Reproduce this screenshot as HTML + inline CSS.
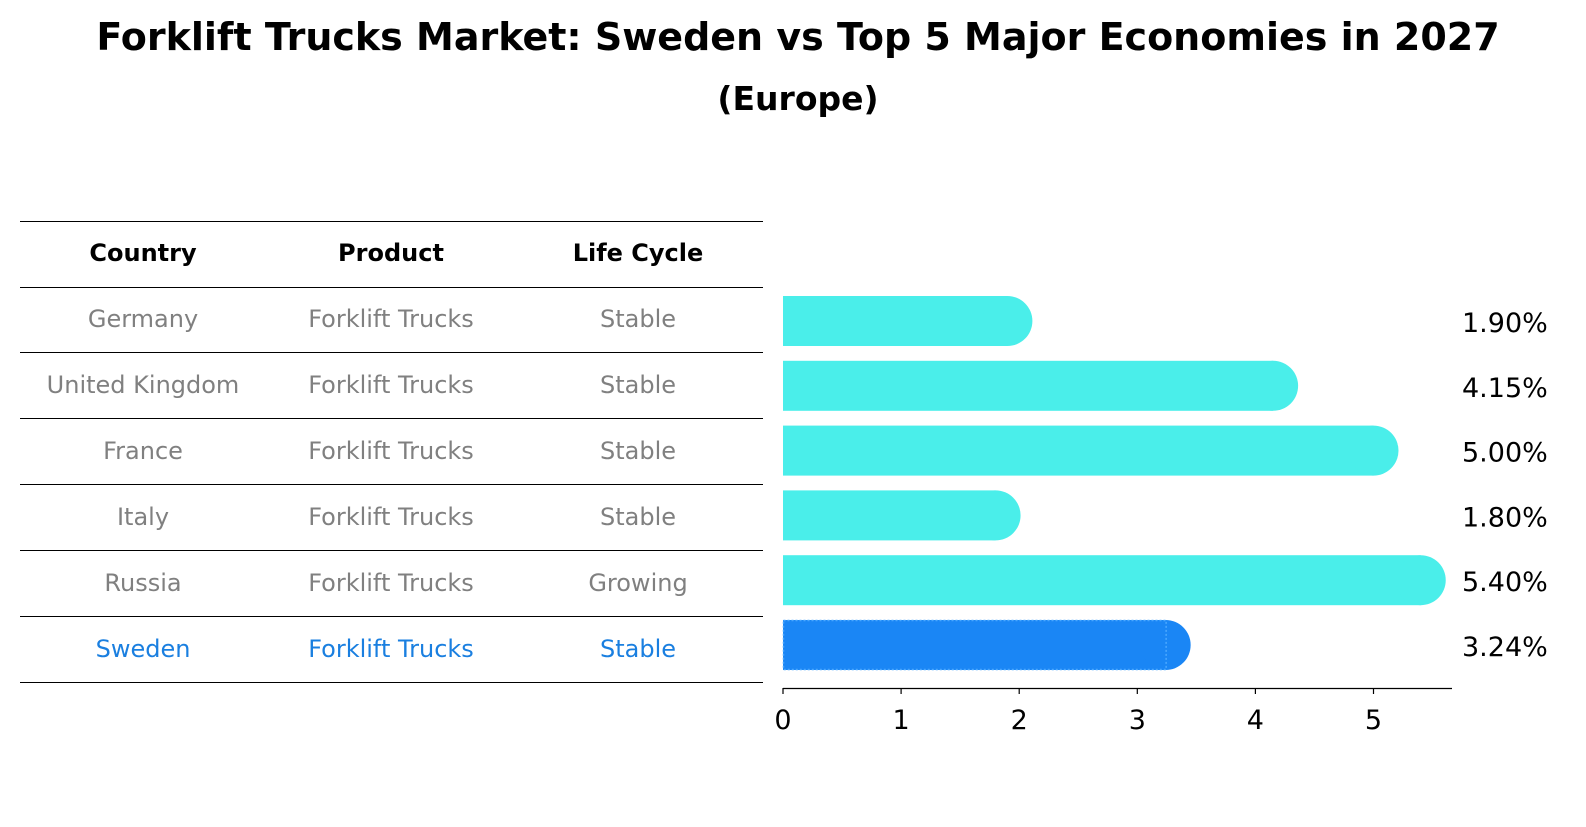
<!DOCTYPE html>
<html><head><meta charset="utf-8">
<style>
body{margin:0;background:#fff;font-family:"DejaVu Sans","Liberation Sans",sans-serif;}
svg text{font-family:"DejaVu Sans","Liberation Sans",sans-serif;}
</style></head>
<body>
<svg id="chart" width="1586" height="823" xmlns="http://www.w3.org/2000/svg">
<text x="798" y="50" text-anchor="middle" font-size="38" font-weight="bold">Forklift Trucks Market: Sweden vs Top 5 Major Economies in 2027</text>
<text x="798" y="110" text-anchor="middle" font-size="33" font-weight="bold">(Europe)</text>
<g id="table"></g>
<g id="bars"></g>
</svg>
<script>
const countries=["Germany","United Kingdom","France","Italy","Russia","Sweden"];
const products=["Forklift Trucks","Forklift Trucks","Forklift Trucks","Forklift Trucks","Forklift Trucks","Forklift Trucks"];
const lifeCycles=["Stable","Stable","Stable","Stable","Growing","Stable"];
const values=[1.90,4.15,5.00,1.80,5.40,3.24];
const valueLabels=["1.90%","4.15%","5.00%","1.80%","5.40%","3.24%"];
const xTicks=[0,1,2,3,4,5];

const NS="http://www.w3.org/2000/svg";
function mk(tag,attrs,parent,txt){const e=document.createElementNS(NS,tag);for(const k in attrs)e.setAttribute(k,attrs[k]);if(txt!==undefined)e.textContent=txt;parent.appendChild(e);return e;}
const xScale=v=>783+v*118.1;
const rowY=i=>321+i*64.8;
const tbl=document.getElementById('table');
const lines=[221,287,352,418,484,550,616,682];
lines.forEach((y,i)=>{const l=mk('line',{x1:20,x2:763,y1:y+0.5,y2:y+0.5,stroke:'#000','stroke-width':1},tbl);

});
const colX=[143,391,638];
["Country","Product","Life Cycle"].forEach((h,j)=>{const t=mk('text',{x:colX[j],y:261,'text-anchor':'middle','font-size':24,'font-weight':'bold'},tbl,h);

});
countries.forEach((c,i)=>{
  const y=[319,385,451,517,583,649][i]+8;
  const col=c==="Sweden"?"#1a7fe0":"#808080";
  [c,products[i],lifeCycles[i]].forEach((v,j)=>{const t=mk('text',{x:colX[j],y:y,'text-anchor':'middle','font-size':24,fill:col},tbl,v);
  
  });
});
const bars=document.getElementById('bars');
const h=50,r=25;
values.forEach((v,i)=>{
  const cy=rowY(i);const xe=xScale(v);
  const sw=countries[i]==="Sweden";
  const fill=sw?"#1a86f5":"#4aeeea";
  const g=mk('g',{},bars);
  
  
  mk('rect',{x:783,y:cy-h/2,width:xe-783,height:h,fill:fill},g);
  mk('circle',{cx:xe,cy:cy,r:r,fill:fill},g);
  if(sw)mk('rect',{x:783.5,y:cy-h/2+0.5,width:xe-783,height:h-1,fill:'none',stroke:'#4aa8ff','stroke-width':1.5,'stroke-dasharray':'2,2'},g);
  const t=mk('text',{x:1462,y:cy+11,'font-size':27},bars,valueLabels[i]);
  
  
});
const ax=mk('line',{x1:783,x2:1452,y1:688.5,y2:688.5,stroke:'#000','stroke-width':1.3},bars);


xTicks.forEach(v=>{const x=xScale(v);
  mk('line',{x1:x,x2:x,y1:688,y2:694,stroke:'#000','stroke-width':1.2},bars);
  const t=mk('text',{x:x,y:729,'text-anchor':'middle','font-size':27},bars,String(v));
  
  });
</script>
</body></html>
